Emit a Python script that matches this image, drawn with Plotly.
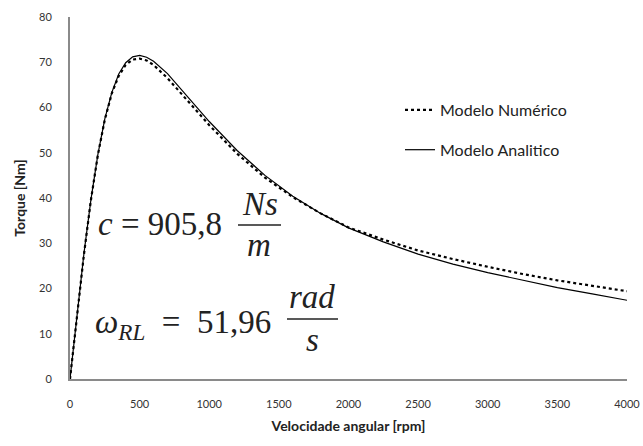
import plotly.graph_objects as go

# Data
rpm = [0, 25, 50, 75, 100, 150, 200, 250, 300, 350, 400, 450, 500, 550, 600,
       700, 800, 900, 1000, 1200, 1400, 1600, 1800, 2000, 2250, 2500, 2750,
       3000, 3250, 3500, 3750, 4000]
torque_numerico = [0, 7.0, 14.0, 20.9, 27.5, 39.5, 49.5, 57.3, 63.1, 67.0, 69.4,
                   70.6, 70.8, 70.4, 69.4, 66.5, 63.1, 59.5, 56.1, 49.8, 44.5,
                   40.2, 36.6, 33.5, 30.8, 28.4, 26.5, 24.8, 23.2, 21.8, 20.6, 19.4]
torque_analitico = [0, 7.2, 14.3, 21.1, 27.7, 39.6, 49.6, 57.5, 63.3, 67.4, 69.9,
                    71.2, 71.5, 71.1, 70.2, 67.5, 64.0, 60.5, 56.9, 50.5, 45.0,
                    40.4, 36.6, 33.4, 30.3, 27.6, 25.4, 23.5, 21.8, 20.2, 18.8, 17.4]
x_ticks = [0, 500, 1000, 1500, 2000, 2500, 3000, 3500, 4000]
y_ticks = [0, 10, 20, 30, 40, 50, 60, 70, 80]

W, H = 643, 446
L, R, T, B = 70, 16, 17, 67
pw, ph = W - L - R, H - T - B


def px(x):
    return (x - L) / pw


def py(y):
    return (H - B - y) / ph


fig = go.Figure()
fig.add_trace(go.Scatter(x=rpm, y=torque_numerico, mode="lines",
                         name="Modelo Numérico", legendgroup="a",
                         line=dict(color="black", width=2.2, dash="dot")))
fig.add_trace(go.Scatter(x=rpm, y=torque_analitico, mode="lines",
                         name="Modelo Analitico", legendgroup="b",
                         line=dict(color="black", width=1.2)))

serif = "Liberation Serif"
FS = 33
ann = []
ann.append(dict(x=px(96), y=py(224), text="<i>c</i> = 905,8", xanchor="left",
                yanchor="middle", font=dict(family=serif, size=FS, color="#222")))
ann.append(dict(x=px(260), y=py(204), text="<i>Ns</i>", xanchor="center",
                yanchor="middle", font=dict(family=serif, size=FS, color="#222")))
ann.append(dict(x=px(259), y=py(245), text="<i>m</i>", xanchor="center",
                yanchor="middle", font=dict(family=serif, size=FS, color="#222")))
ann.append(dict(x=px(93), y=py(324),
                text="<i>ω</i><sub><i>RL</i></sub>&nbsp;&nbsp;=&nbsp;&nbsp;51,96",
                xanchor="left", yanchor="middle",
                font=dict(family=serif, size=FS, color="#222")))
ann.append(dict(x=px(312), y=py(297), text="<i>rad</i>", xanchor="center",
                yanchor="middle", font=dict(family=serif, size=FS, color="#222")))
ann.append(dict(x=px(312), y=py(340), text="<i>s</i>", xanchor="center",
                yanchor="middle", font=dict(family=serif, size=FS, color="#222")))
for a in ann:
    a.update(xref="paper", yref="paper", showarrow=False)

shapes = [
    dict(type="line", xref="paper", yref="paper", x0=px(238), x1=px(281),
         y0=py(225), y1=py(225), line=dict(color="#222", width=1.3)),
    dict(type="line", xref="paper", yref="paper", x0=px(287), x1=px(338),
         y0=py(319), y1=py(319), line=dict(color="#222", width=1.3)),
]

fig.update_layout(
    width=W, height=H,
    margin=dict(l=L, r=R, t=T, b=B, autoexpand=False),
    paper_bgcolor="white", plot_bgcolor="white",
    font=dict(family="Lato", size=11, color="#333"),
    showlegend=True,
    legend=dict(x=px(400), y=py(93), xanchor="left", yanchor="top",
                bgcolor="rgba(0,0,0,0)", tracegroupgap=16,
                traceorder="grouped",
                font=dict(family="Lato", size=16, color="#222")),
    annotations=ann,
    shapes=shapes,
    xaxis=dict(range=[0, 4000], tickvals=x_ticks, ticktext=[str(v) for v in x_ticks],
               showgrid=False, zeroline=False, showline=True, linecolor="#8a8a8a",
               linewidth=2, ticks="", ticklabelstandoff=14, automargin=False,
               title=dict(text="<b>Velocidade angular [rpm]</b>", standoff=12,
                          font=dict(family="Lato", size=14, color="#222"))),
    yaxis=dict(range=[0, 80], tickvals=y_ticks, ticktext=[str(v) for v in y_ticks],
               showgrid=False, zeroline=False, showline=True, linecolor="#8a8a8a",
               linewidth=2, ticks="", ticklabelstandoff=14, automargin=False,
               title=dict(text="<b>Torque [Nm]</b>", standoff=10,
                          font=dict(family="Lato", size=14, color="#222"))),
)

fig.write_html("out.html")
